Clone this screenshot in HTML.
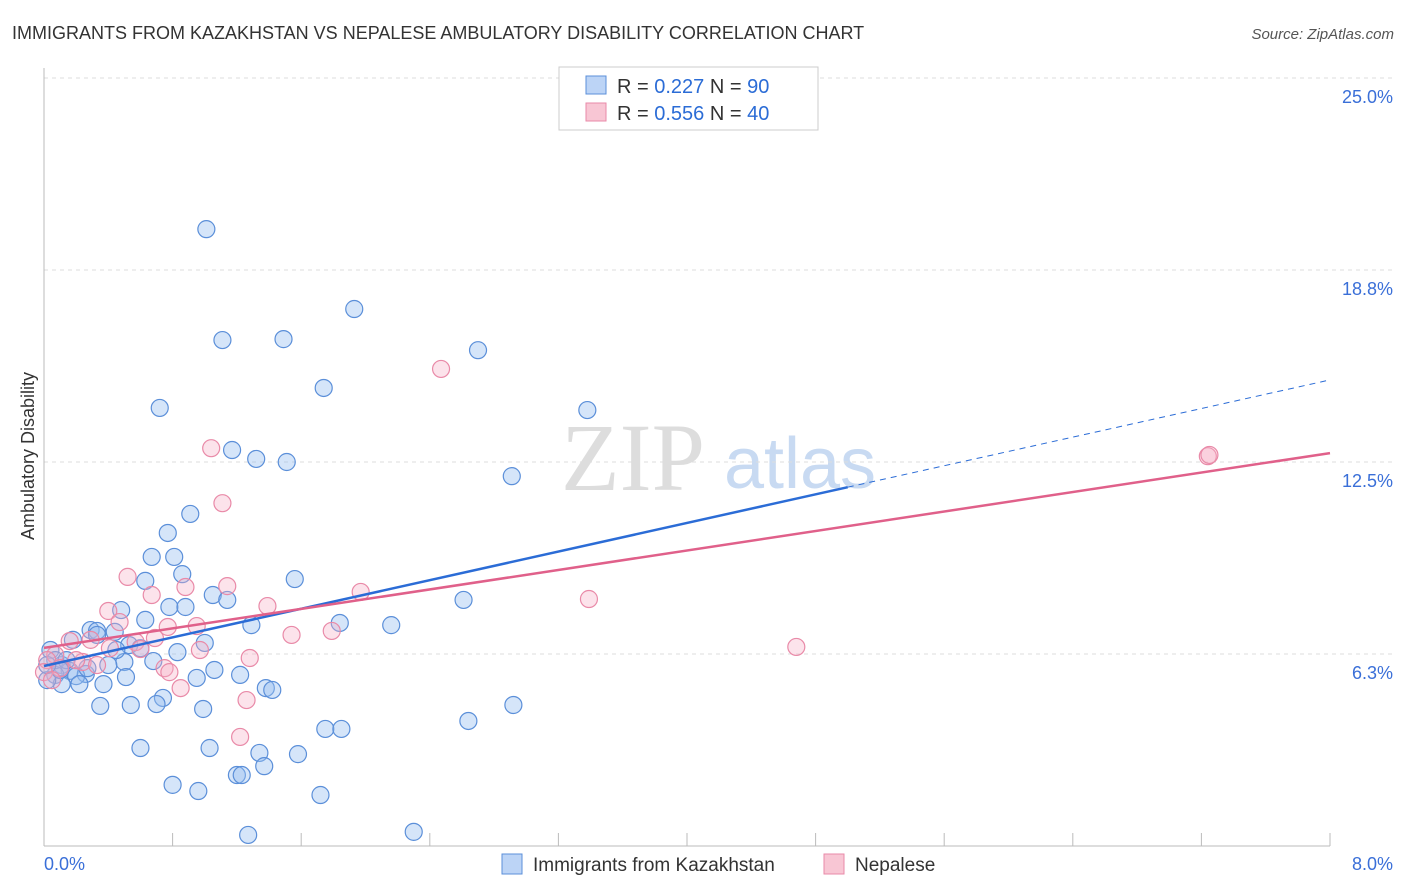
<!DOCTYPE html>
<html><head><meta charset="utf-8"><style>
body{margin:0;background:#fff;font-family:"Liberation Sans",sans-serif}
svg{display:block}
</style></head><body>
<svg id="c" width="1406" height="892" xmlns="http://www.w3.org/2000/svg">
<text x="12" y="39" font-size="18" fill="#333">IMMIGRANTS FROM KAZAKHSTAN VS NEPALESE AMBULATORY DISABILITY CORRELATION CHART</text>
<text x="1394" y="39" font-size="15" fill="#555" font-style="italic" text-anchor="end">Source: ZipAtlas.com</text>
<text x="34" y="456" font-size="18" fill="#333" text-anchor="middle" transform="rotate(-90 34 456)">Ambulatory Disability</text>
<g>
<text x="633" y="490" font-size="96" font-family="Liberation Serif,serif" fill="#ddd" text-anchor="middle">ZIP</text>
<text x="800" y="488" font-size="72" fill="#c8daf2" text-anchor="middle">atlas</text>
</g>
<g id="grid"></g>
<g id="pts"></g>
<g id="trend"></g>
<g>
<rect x="559" y="67" width="259" height="63" fill="#fff" stroke="#ccc"/>
<rect x="586" y="76" width="20" height="18" fill="#bcd4f6" stroke="#5b8fd9"/>
<text x="617" y="93" font-size="20" fill="#333">R = <tspan fill="#2b6cd6">0.227</tspan>   N = <tspan fill="#2b6cd6">90</tspan></text>
<rect x="586" y="103" width="20" height="18" fill="#f8c6d4" stroke="#e98aa8"/>
<text x="617" y="120" font-size="20" fill="#333">R = <tspan fill="#2b6cd6">0.556</tspan>   N = <tspan fill="#2b6cd6">40</tspan></text>
</g>
<g>
<rect x="502" y="854" width="20" height="20" fill="#bcd4f6" stroke="#5b8fd9"/>
<text x="533" y="871" font-size="19" fill="#333">Immigrants from Kazakhstan</text>
<rect x="824" y="854" width="20" height="20" fill="#f8c6d4" stroke="#e98aa8"/>
<text x="855" y="871" font-size="19" fill="#333">Nepalese</text>
</g>
<text x="44" y="870" font-size="18" fill="#3a6fd8">0.0%</text>
<text x="1393" y="870" font-size="18" fill="#3a6fd8" text-anchor="end">8.0%</text>
</svg>
<script>
const yTicks=[25,18.75,12.5,6.25];
const yTickLabels=["25.0%","18.8%","12.5%","6.3%"];
const blueX=[1.01,1.93,1.11,1.49,2.70,1.74,0.72,3.38,1.17,1.32,1.51,2.91,0.91,0.77,0.67,0.81,0.86,1.56,0.63,1.05,1.14,2.61,0.78,0.88,0.48,0.63,1.29,1.84,2.16,0.29,0.33,0.44,0.33,1.00,0.53,0.83,0.18,0.68,0.50,0.40,0.11,0.16,0.26,1.06,1.22,0.51,0.07,0.20,0.37,0.22,0.11,0.02,0.95,1.38,1.42,0.74,0.35,0.54,0.70,0.99,2.64,2.92,1.75,1.85,0.60,1.03,1.34,1.58,1.37,1.20,1.23,0.80,0.96,1.72,1.27,2.30,0.04,0.07,0.14,0.27,0.45,0.60,0.10,0.02];
const blueY=[20.08,17.48,16.47,16.50,16.14,14.91,14.26,14.19,12.89,12.60,12.50,12.04,10.81,10.19,9.41,9.41,8.85,8.69,8.63,8.17,8.01,8.01,7.78,7.78,7.68,7.36,7.19,7.26,7.19,7.03,7.00,6.97,6.87,6.61,6.54,6.31,6.71,6.02,5.99,5.89,5.89,5.70,5.60,5.73,5.57,5.50,5.57,5.53,5.27,5.27,5.27,5.40,5.47,5.14,5.08,4.82,4.56,4.59,4.62,4.46,4.07,4.59,3.81,3.81,3.19,3.19,3.03,2.99,2.60,2.31,2.31,1.99,1.79,1.66,0.36,0.46,6.38,6.05,6.05,5.79,6.38,6.44,5.73,5.89];
const pinkX=[2.47,1.04,1.11,0.52,1.14,0.67,0.88,1.97,3.39,0.40,1.39,0.47,0.77,0.95,1.79,1.54,0.69,0.16,0.57,0.60,1.28,0.24,0.33,0.75,0.78,0.85,1.26,1.22,4.68,7.24,7.25,0.07,0.02,0.10,0.20,0.41,0.00,0.05,0.29,0.97];
const pinkY=[15.53,12.95,11.16,8.76,8.46,8.17,8.43,8.27,8.04,7.65,7.81,7.29,7.13,7.16,7.00,6.87,6.77,6.67,6.64,6.41,6.12,5.99,5.89,5.79,5.66,5.14,4.75,3.55,6.48,12.69,12.73,6.22,6.05,5.79,6.05,6.44,5.66,5.40,6.71,6.38];
const blueTrend=[5.86,1.164]; // intercept, slope
const pinkTrend=[6.45,0.7925];
const xMax=8, yMax=25;
const X=v=>44+v/xMax*1286, Y=v=>846-v*30.72;
const NS="http://www.w3.org/2000/svg";
function mk(t,a,p){const e=document.createElementNS(NS,t);for(const k in a)e.setAttribute(k,a[k]);p.appendChild(e);return e;}
const grid=document.getElementById('grid');
yTicks.forEach((t,i)=>{
 const l=mk('line',{x1:44,x2:1393,y1:Y(t),y2:Y(t),stroke:'#ddd','stroke-dasharray':'4 4'},grid);
 
 
 const tx=mk('text',{x:1393,y:Y(t)+25,'font-size':18,fill:'#3a6fd8','text-anchor':'end'},grid);
 tx.textContent=yTickLabels[i];
 
 
});
const ax=mk('line',{x1:44,x2:44,y1:68,y2:846,stroke:'#bbb'},grid);


const bx=mk('line',{x1:44,x2:1330,y1:846,y2:846,stroke:'#bbb'},grid);


for(let i=0;i<=10;i++){const t=mk('line',{x1:X(i*0.8),x2:X(i*0.8),y1:833,y2:846,stroke:'#bbb'},grid);
 
 }
const pts=document.getElementById('pts');
blueX.forEach((x,i)=>{const c=mk('circle',{cx:X(x),cy:Y(blueY[i]),r:8.5,fill:'rgba(150,190,240,0.4)',stroke:'#5b8fd9','stroke-width':1.2},pts);
 
 });
pinkX.forEach((x,i)=>{const c=mk('circle',{cx:X(x),cy:Y(pinkY[i]),r:8.5,fill:'rgba(245,175,198,0.35)',stroke:'#e98aa8','stroke-width':1.2},pts);
 
 });
const tr=document.getElementById('trend');
const b1=mk('line',{x1:X(0),y1:Y(blueTrend[0]),x2:X(5),y2:Y(blueTrend[0]+5*blueTrend[1]),stroke:'#2b6cd6','stroke-width':2.5},tr);


const b2=mk('line',{x1:X(5),y1:Y(blueTrend[0]+5*blueTrend[1]),x2:X(8),y2:Y(blueTrend[0]+8*blueTrend[1]),stroke:'#2b6cd6','stroke-width':1,'stroke-dasharray':'6 5'},tr);


const p1=mk('line',{x1:X(0),y1:Y(pinkTrend[0]),x2:X(8),y2:Y(pinkTrend[0]+8*pinkTrend[1]),stroke:'#e0608a','stroke-width':2.5},tr);


</script>
</body></html>
